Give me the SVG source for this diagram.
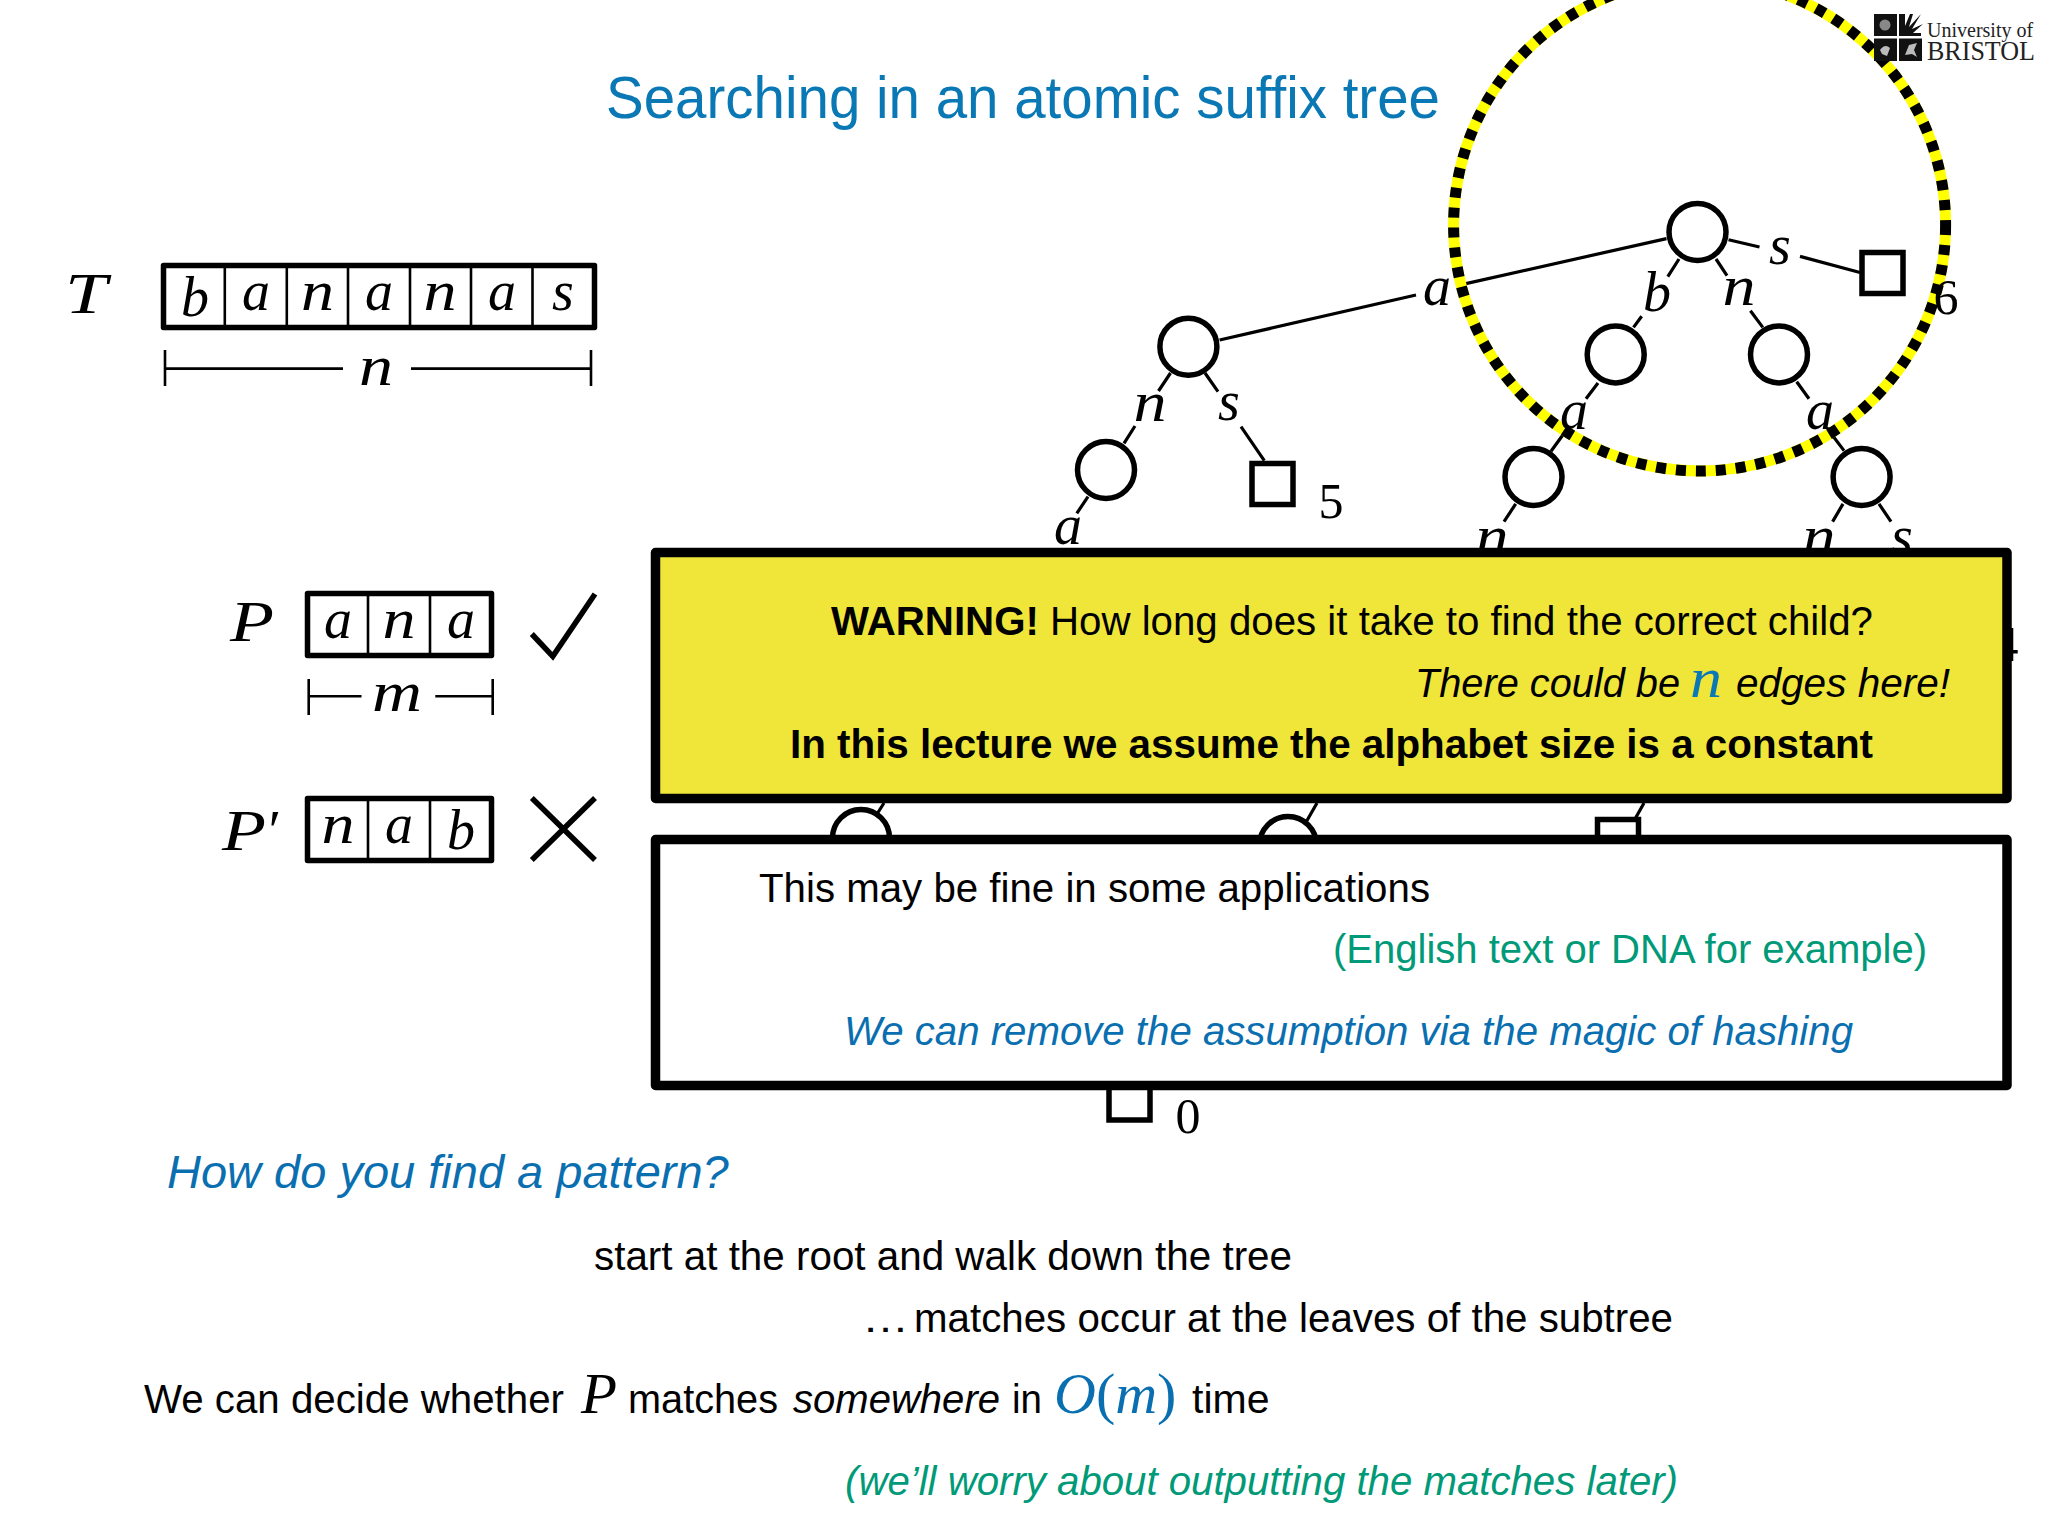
<svg xmlns="http://www.w3.org/2000/svg" width="2048" height="1536" viewBox="0 0 2048 1536">
<style>
text{font-family:"Liberation Sans",Arial,sans-serif;fill:#000}
.m,.m tspan{font-family:"Liberation Serif","Times New Roman",serif;font-style:italic;font-size:56px}
.c{text-anchor:middle}
.d{font-family:"Liberation Serif","Times New Roman",serif;font-size:50px;text-anchor:middle}
.b{font-size:41px}
.i{font-style:italic}
.blue{fill:#0a6fb0}
.green{fill:#009a78}
.e{stroke:#000;stroke-width:3.2;fill:none}
.n{fill:#fff;stroke:#000;stroke-width:5.5}
.box{fill:#fff;stroke:#000;stroke-width:5.5;stroke-linejoin:round}
.div{stroke:#000;stroke-width:2.6}
.dim{stroke:#000;stroke-width:2.6;fill:none}
.mark{stroke:#000;stroke-width:5.5;fill:none}
.panel{stroke:#000;stroke-width:9.5;stroke-linejoin:round}
</style>

<text id="title" x="606" y="118" font-size="59" style="fill:#0a78b4" textLength="834" lengthAdjust="spacingAndGlyphs">Searching in an atomic suffix tree</text>

<g id="connectors">
<path class="e" d="M1666.500 238.600L1457 285.600M1416 295L1219.600 340"/>
<path class="e" d="M1728.500 239.700L1759.500 247M1800 256.400L1860 272.500"/>
<path class="e" d="M1679 259L1667.800 276.700M1641.700 316.300L1633.500 327.400"/>
<path class="e" d="M1716 259L1727 275.600M1750.400 310.800L1762.800 327.400"/>
<path class="e" d="M1598 383L1586 398.800M1563 434.700L1551 451.300"/>
<path class="e" d="M1796.700 381.800L1809 398.800M1832 434.700L1844 450.600"/>
<path class="e" d="M1515.700 503.900L1504 521.600"/>
<path class="e" d="M1843 503.900L1832.600 521.600M1879 503.900L1891 521.600"/>
<path class="e" d="M1170.500 373L1158.500 391M1135 426L1124 443.300"/>
<path class="e" d="M1088 496.700L1076.800 513.300"/>
<path class="e" d="M1205 373L1218 391.700M1241 426.700L1264.300 460.700"/>
<path class="e" d="M884 803L877 814M1317 803L1305 824M1644 803L1635 819"/>
</g>

<g id="node-root"><circle class="n" cx="1697.500" cy="232" r="28.500"/></g>
<g id="node-b"><circle class="n" cx="1615.700" cy="354.400" r="28.500"/></g>
<g id="node-n"><circle class="n" cx="1779" cy="354.400" r="28.500"/></g>
<g id="node-ba"><circle class="n" cx="1533.500" cy="477" r="28.500"/></g>
<g id="node-na"><circle class="n" cx="1861.600" cy="477" r="28.500"/></g>
<g id="node-a"><circle class="n" cx="1188.400" cy="346.700" r="28.500"/></g>
<g id="node-an"><circle class="n" cx="1106" cy="470" r="28.500"/></g>
<g id="node-c1"><circle class="n" cx="861" cy="838" r="28.500"/></g>
<g id="node-c2"><circle class="n" cx="1288" cy="845" r="28.500"/></g>
<g id="leaf-6"><rect class="n" x="1862" y="252.500" width="41" height="41"/></g>
<g id="leaf-5"><rect class="n" x="1252" y="463.500" width="41" height="41"/></g>
<g id="leaf-4"><rect class="n" x="1597.500" y="819.500" width="41" height="41"/></g>
<g id="leaf-0"><rect class="n" x="1109" y="1078" width="41" height="42"/></g>

<g id="highlight-circle" fill="none" stroke-width="11">
<circle cx="1699.600" cy="225" r="246" stroke="#ffff00"/>
<circle cx="1699.600" cy="225" r="246" stroke="#000" stroke-dasharray="10 10"/>
</g>

<g id="tree-labels">
<text class="m c" x="1437" y="305">a</text>
<text class="m c" x="1780" y="264">s</text>
<text class="m c" x="1657" y="311">b</text>
<text class="m c" x="1739" y="305" textLength="33" lengthAdjust="spacingAndGlyphs">n</text>
<text class="m c" x="1574" y="429">a</text>
<text class="m c" x="1820" y="429">a</text>
<text class="m c" x="1492" y="555" textLength="33" lengthAdjust="spacingAndGlyphs">n</text>
<text class="m c" x="1819" y="555" textLength="33" lengthAdjust="spacingAndGlyphs">n</text>
<text class="m c" x="1902" y="555">s</text>
<text class="m c" x="1150" y="421" textLength="33" lengthAdjust="spacingAndGlyphs">n</text>
<text class="m c" x="1229" y="420">s</text>
<text class="m c" x="1068" y="544">a</text>
<text class="d" x="1946" y="314">6</text>
<text class="d" x="1331" y="518">5</text>
<text class="d" x="2006" y="661">4</text>
<text class="d" x="1188" y="1133">0</text>
</g>

<g id="logo">
<rect x="1874" y="14" width="23" height="22" fill="#111"/>
<rect x="1874" y="38.500" width="23" height="22.500" fill="#111"/>
<rect x="1899" y="38.500" width="23" height="22.500" fill="#111"/>
<path d="M1899 14h6v12l5-12h3l-4 13 12-13-9 15 11-5-10 9h8v3h-22z" fill="#111"/>
<circle cx="1885" cy="25" r="5.500" fill="#888"/>
<path d="M1880 50q5-7 10-2l-3 8-5-2zM1905 55l4-10 8-2-3 7 3 7-5-3z" fill="#bbb"/>
<text x="1927" y="36.500" font-size="20" style="font-family:'Liberation Serif',serif;fill:#222">University of</text>
<text x="1927" y="60" font-size="27" style="font-family:'Liberation Serif',serif;fill:#222" textLength="108" lengthAdjust="spacingAndGlyphs">BRISTOL</text>
</g>

<g id="text-T">
<text class="m c" x="86" y="313" style="font-size:58px" textLength="42" lengthAdjust="spacingAndGlyphs">T</text>
<rect class="box" x="163.500" y="265.500" width="431" height="62"/>
<path class="div" d="M224.800 265V328M286.800 265V328M348 265V328M410 265V328M471 265V328M532.500 265V328"/>
<text class="m c" x="195" y="316">b</text>
<text class="m c" x="256" y="310">a</text>
<text class="m c" x="317.500" y="310" textLength="33" lengthAdjust="spacingAndGlyphs">n</text>
<text class="m c" x="379" y="310">a</text>
<text class="m c" x="440" y="310" textLength="33" lengthAdjust="spacingAndGlyphs">n</text>
<text class="m c" x="502" y="310">a</text>
<text class="m c" x="563" y="310">s</text>
<path class="dim" d="M165 350V386M591 350V386M165 368.600H343M411 368.600H591"/>
<text class="m c" x="376" y="385" textLength="34" lengthAdjust="spacingAndGlyphs">n</text>
</g>

<g id="pattern-P">
<text class="m c" x="252" y="641" style="font-size:58px" textLength="44" lengthAdjust="spacingAndGlyphs">P</text>
<rect class="box" x="307.500" y="593.500" width="184" height="62"/>
<path class="div" d="M368 593V656M430 593V656"/>
<text class="m c" x="338" y="638">a</text>
<text class="m c" x="399" y="638" textLength="33" lengthAdjust="spacingAndGlyphs">n</text>
<text class="m c" x="461" y="638">a</text>
<path class="mark" d="M531.800 634L552.800 656.300L595 594"/>
<path class="dim" d="M308.700 679V715M492.700 679V715M308.700 696.300H361.500M435.300 696.300H492.700"/>
<text class="m c" x="397" y="711" textLength="50" lengthAdjust="spacingAndGlyphs">m</text>
</g>

<g id="pattern-P-prime">
<text class="m" x="222" y="850" style="font-size:58px" textLength="44" lengthAdjust="spacingAndGlyphs">P</text>
<text class="m" x="265" y="850" style="font-size:58px">′</text>
<rect class="box" x="307.500" y="798.500" width="184" height="62"/>
<path class="div" d="M368 798V861M430 798V861"/>
<text class="m c" x="338" y="843" textLength="33" lengthAdjust="spacingAndGlyphs">n</text>
<text class="m c" x="399" y="843">a</text>
<text class="m c" x="461" y="849">b</text>
<path class="mark" d="M531.800 798L595 860M595 798L531.800 860"/>
</g>

<g id="warning-box">
<rect class="panel" x="655.500" y="552.500" width="1351.500" height="246" fill="#f0e63a"/>
<text class="b" x="831" y="635" textLength="1042" lengthAdjust="spacingAndGlyphs"><tspan font-weight="bold">WARNING!</tspan> How long does it take to find the correct child?</text>
<text class="b i" x="1415" y="697" textLength="265" lengthAdjust="spacingAndGlyphs">There could be</text>
<text class="m" x="1690" y="697" style="fill:#0a78b4" textLength="32" lengthAdjust="spacingAndGlyphs">n</text>
<text class="b i" x="1736" y="697" textLength="214" lengthAdjust="spacingAndGlyphs">edges here!</text>
<text class="b" x="790" y="758" font-weight="bold" textLength="1083" lengthAdjust="spacingAndGlyphs">In this lecture we assume the alphabet size is a constant</text>
</g>

<g id="note-box">
<rect class="panel" x="655.500" y="839.500" width="1351.500" height="246" fill="#fff"/>
<text class="b" x="759" y="902" textLength="671" lengthAdjust="spacingAndGlyphs">This may be fine in some applications</text>
<text class="b green" x="1333" y="963" textLength="594" lengthAdjust="spacingAndGlyphs">(English text or DNA for example)</text>
<text class="b i blue" x="844" y="1045" textLength="1009" lengthAdjust="spacingAndGlyphs">We can remove the assumption via the magic of hashing</text>
</g>

<g id="body-text">
<text class="i blue" x="167" y="1188" font-size="47">How do you find a pattern?</text>
<text class="b" x="594" y="1270" textLength="698" lengthAdjust="spacingAndGlyphs">start at the root and walk down the tree</text>
<text class="b" x="862" y="1332" textLength="47" lengthAdjust="spacingAndGlyphs">…</text>
<text class="b" x="914" y="1332" textLength="759" lengthAdjust="spacingAndGlyphs">matches occur at the leaves of the subtree</text>
<text class="b" x="144" y="1413" textLength="420" lengthAdjust="spacingAndGlyphs">We can decide whether</text>
<text class="m" x="581" y="1413" style="font-size:58px" textLength="36" lengthAdjust="spacingAndGlyphs">P</text>
<text class="b" x="628" y="1413" textLength="150" lengthAdjust="spacingAndGlyphs">matches</text>
<text class="b i" x="793" y="1413" textLength="207" lengthAdjust="spacingAndGlyphs">somewhere</text>
<text class="b" x="1012" y="1413" textLength="30" lengthAdjust="spacingAndGlyphs">in</text>
<text class="m blue" x="1054" y="1413" style="font-size:58px">O<tspan style="font-style:normal;font-size:58px;fill:#0a6fb0">(</tspan>m<tspan style="font-style:normal;font-size:58px;fill:#0a6fb0">)</tspan></text>
<text class="b" x="1192" y="1413">time</text>
<text class="b i green" x="845" y="1495" textLength="833" lengthAdjust="spacingAndGlyphs">(we’ll worry about outputting the matches later)</text>
</g>
</svg>
